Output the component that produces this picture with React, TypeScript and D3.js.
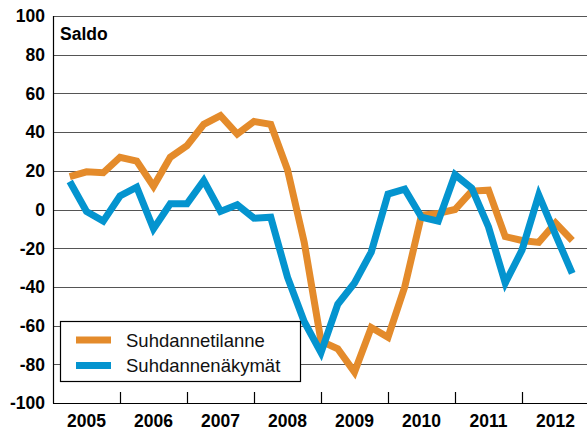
import React, { useEffect, useRef } from 'react';
import * as d3 from 'd3';

// quarterly observations, 2005Q1 .. 2012Q3
const years = ['2005', '2006', '2007', '2008', '2009', '2010', '2011', '2012'];
const tilanne = [17, 19.5, 19, 27, 25, 12, 27, 33, 44, 48.5, 39, 45.5, 44, 20.5, -17, -68, -72, -84, -61, -66, -40, -3, -2, 0, 9.5, 10, -14, -16, -17, -7, -16];
const nakymat = [14.5, -1, -6, 7, 11.5, -10, 3, 3, 15, -1, 2.5, -4.5, -4, -35, -58, -74, -49, -38, -22, 8, 10.5, -4, -6, 18, 11, -9, -38, -21, 7.5, -13, -33];
const yTicks = [-100, -80, -60, -40, -20, 0, 20, 40, 60, 80, 100];

const series = [
  { label: 'Suhdannetilanne', values: tilanne, color: '#E48B2B' },
  { label: 'Suhdannenäkymät', values: nakymat, color: '#0494CF' },
];

const App = () => {
  const svgRef = useRef<SVGSVGElement>(null);

  useEffect(() => {
    const width = 587;
    const height = 432;
    const svg = d3.select(svgRef.current);
    svg.selectAll('*').remove();
    svg.attr('width', width).attr('height', height);

    const left = 53;
    const top = 16;
    const bottom = 403;
    const yearW = 67;
    const font = 'Liberation Sans, Arial, sans-serif';

    // x: quarter index, points sit at the end of each quarter
    const x = d3.scaleLinear().domain([0, years.length * 4]).range([left, left + years.length * yearW]);
    const y = d3.scaleLinear().domain([-100, 100]).range([bottom, top]);

    // grid lines
    svg.selectAll('.grid')
      .data(yTicks.filter(d => d > -100))
      .enter()
      .append('line')
      .attr('x1', left)
      .attr('x2', width)
      .attr('y1', d => Math.round(y(d)) + 0.5)
      .attr('y2', d => Math.round(y(d)) + 0.5)
      .attr('stroke', '#555')
      .attr('stroke-width', 1.2);

    // axes
    svg.append('line')
      .attr('x1', left + 0.5).attr('x2', left + 0.5)
      .attr('y1', top).attr('y2', bottom + 0.5)
      .attr('stroke', '#000').attr('stroke-width', 1.2);
    svg.append('line')
      .attr('x1', left).attr('x2', width)
      .attr('y1', bottom + 0.5).attr('y2', bottom + 0.5)
      .attr('stroke', '#000').attr('stroke-width', 1.2);

    // year separators
    svg.selectAll('.tick')
      .data(d3.range(1, years.length))
      .enter()
      .append('line')
      .attr('x1', d => Math.round(x(d * 4)) + 0.5)
      .attr('x2', d => Math.round(x(d * 4)) + 0.5)
      .attr('y1', bottom - 11)
      .attr('y2', bottom)
      .attr('stroke', '#000')
      .attr('stroke-width', 1.2);

    // y labels
    svg.selectAll('.ylab')
      .data(yTicks)
      .enter()
      .append('text')
      .attr('x', 45)
      .attr('y', d => y(d))
      .attr('dy', '0.36em')
      .attr('text-anchor', 'end')
      .style('font-family', font)
      .style('font-weight', 'bold')
      .style('font-size', '17.5px')
      .text(d => d);

    // x labels
    svg.selectAll('.xlab')
      .data(years)
      .enter()
      .append('text')
      .attr('x', (d, i) => x(i * 4 + 2))
      .attr('y', 427)
      .attr('text-anchor', 'middle')
      .style('font-family', font)
      .style('font-weight', 'bold')
      .style('font-size', '17.5px')
      .text(d => d);

    svg.append('text')
      .attr('x', 60)
      .attr('y', 40)
      .style('font-family', font)
      .style('font-weight', 'bold')
      .style('font-size', '17.5px')
      .text('Saldo');

    // lines
    const line = d3.line<number>()
      .x((d, i) => x(i + 1))
      .y(d => y(d))
      .curve(d3.curveLinear);

    series.forEach(s => {
      svg.append('path')
        .attr('d', line(s.values))
        .attr('fill', 'none')
        .attr('stroke', s.color)
        .attr('stroke-width', 7)
        .attr('stroke-linejoin', 'miter')
        .attr('stroke-miterlimit', 3);
    });

    // legend
    const legend = svg.append('g');
    legend.append('rect')
      .attr('x', 60.5).attr('y', 321.5)
      .attr('width', 240).attr('height', 60)
      .attr('fill', '#fff')
      .attr('stroke', '#000')
      .attr('stroke-width', 1.2);

    const items = legend.selectAll('.item')
      .data(series)
      .enter()
      .append('g')
      .attr('transform', (d, i) => `translate(0, ${340 + i * 25.5})`);

    items.append('line')
      .attr('x1', 76).attr('x2', 111)
      .attr('y1', 0).attr('y2', 0)
      .attr('stroke', d => d.color)
      .attr('stroke-width', 7);

    items.append('text')
      .attr('x', 126)
      .attr('y', 6.5)
      .style('font-family', font)
      .style('font-size', '18.5px')
      .style('fill', '#111')
      .text(d => d.label);
  }, []);

  return (
    <div style={{ position: 'absolute', left: 0, top: 0 }}>
      <svg ref={svgRef} style={{ display: 'block' }}></svg>
    </div>
  );
};

export default App;
